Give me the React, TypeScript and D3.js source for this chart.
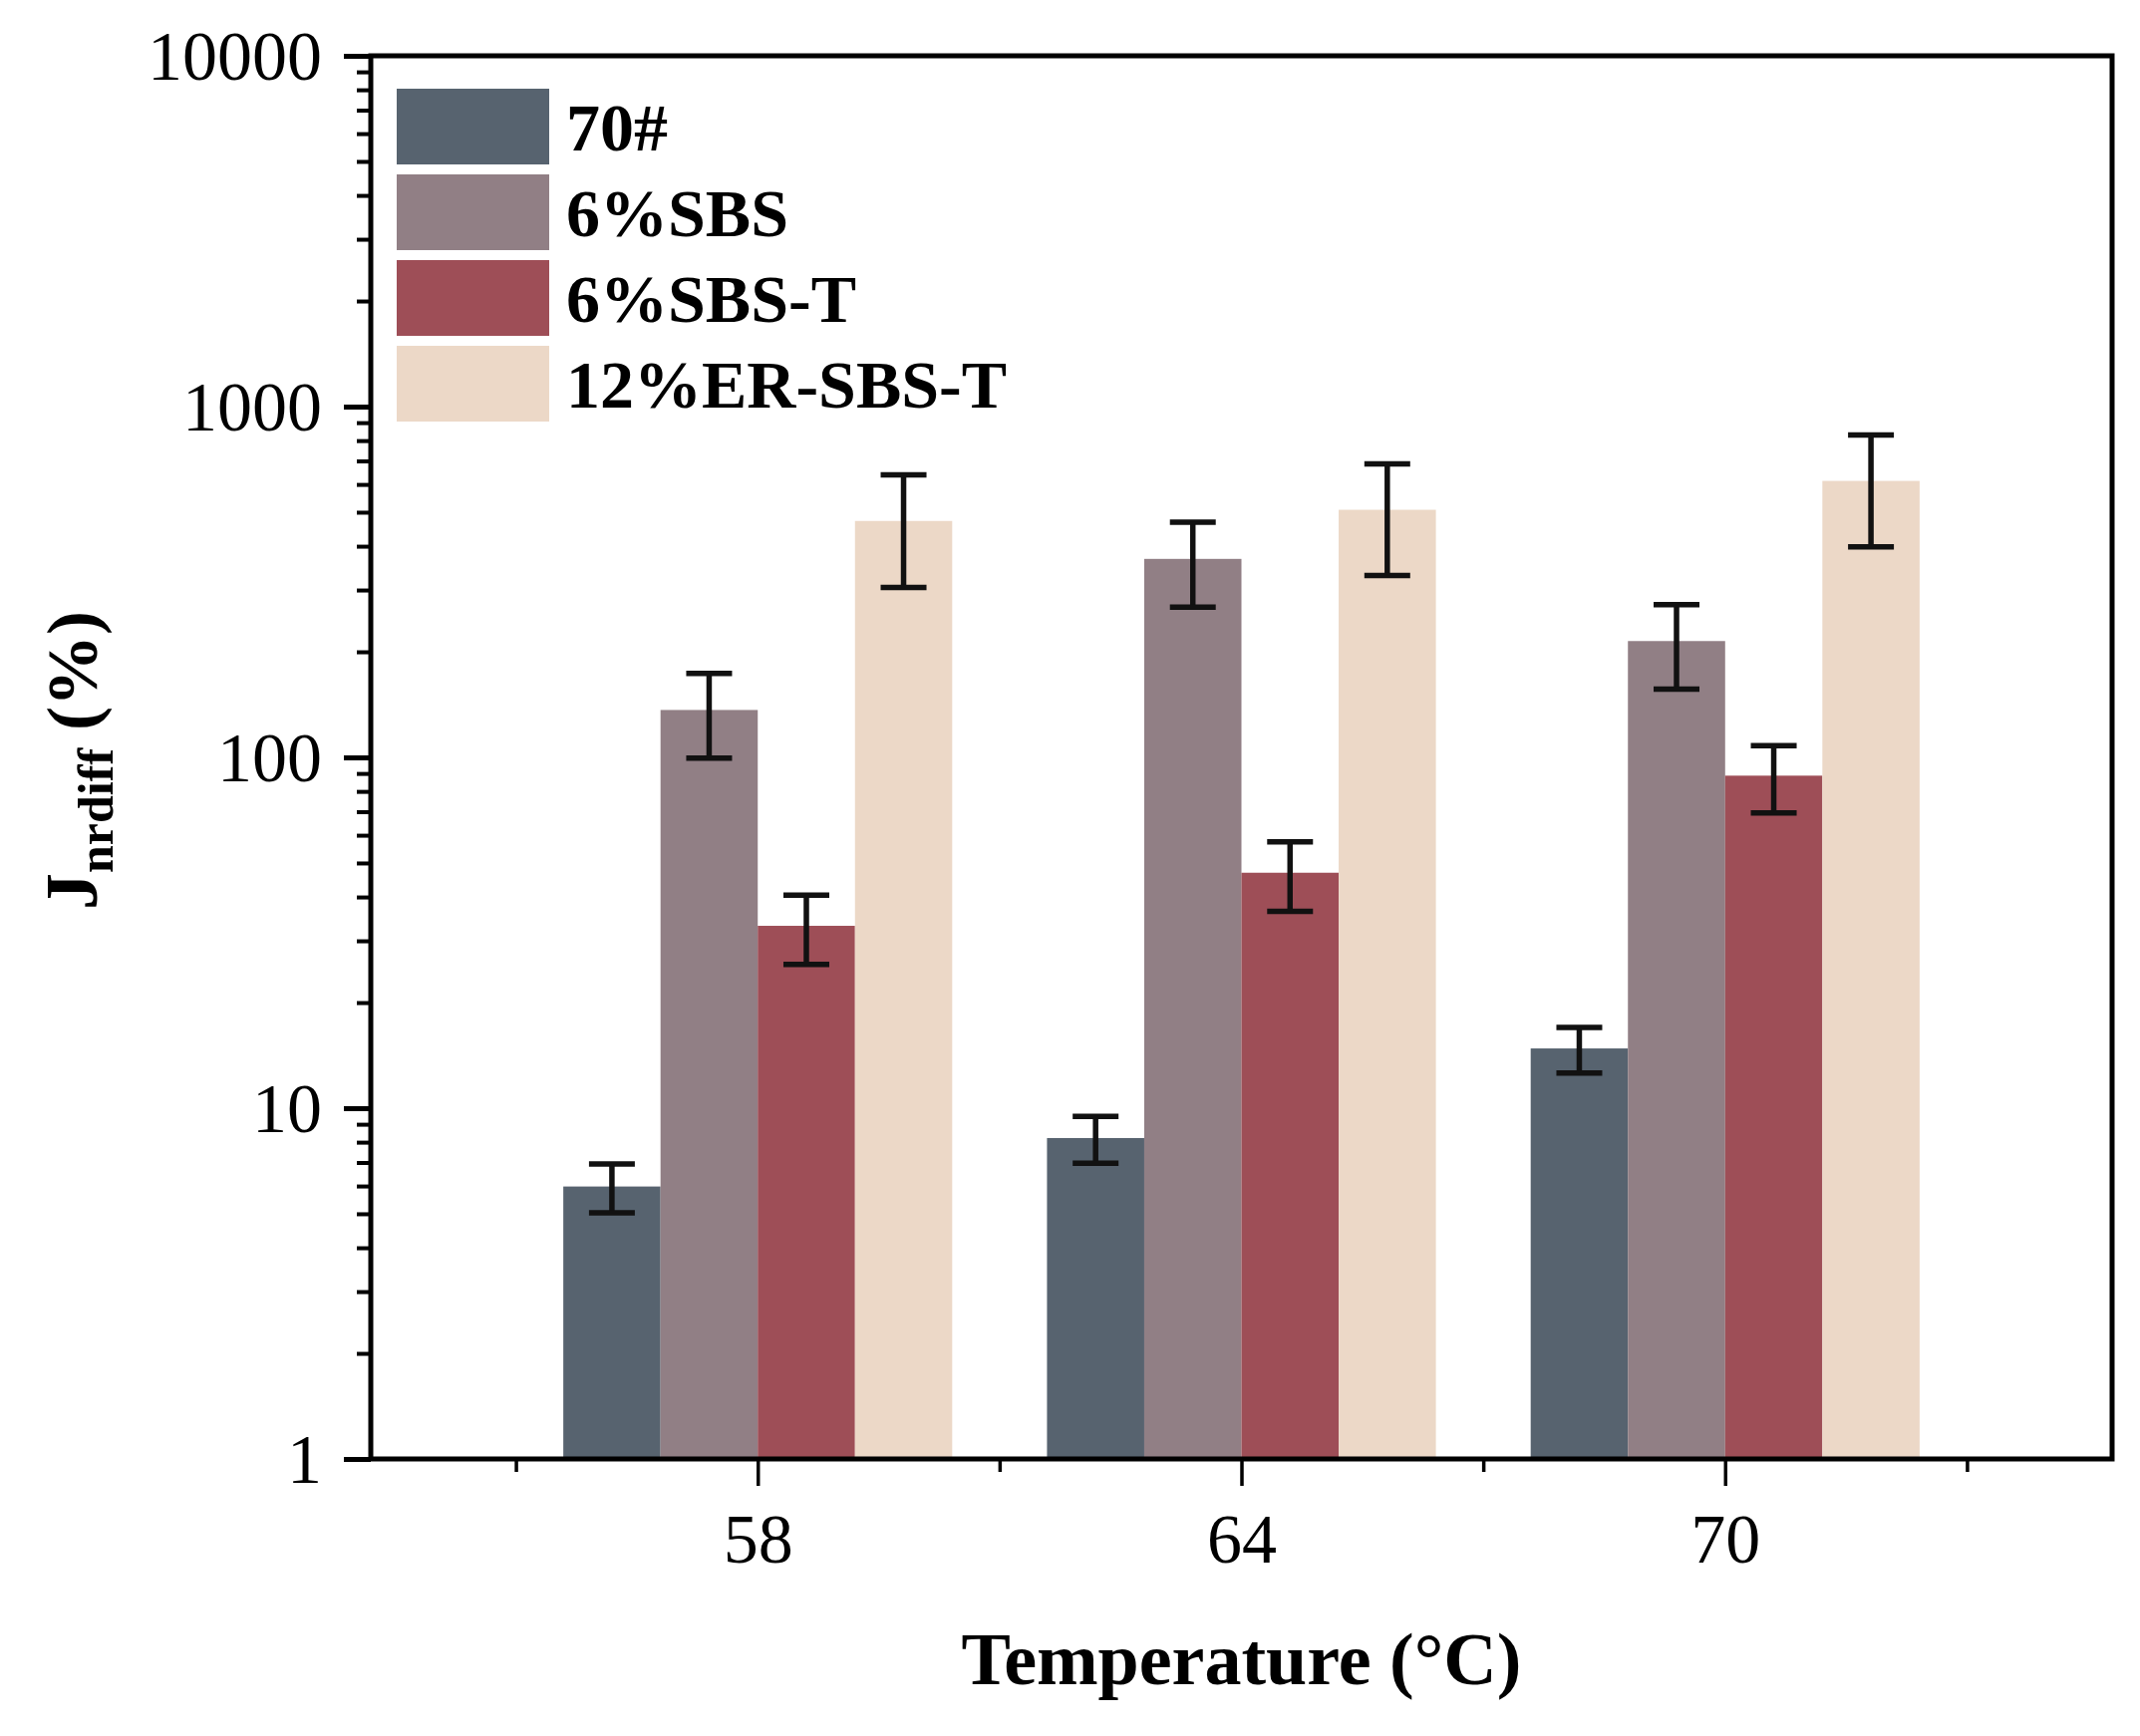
import { useEffect, useRef } from "react";
import * as d3 from "d3";

// temperatures on the x axis
const temperatures = ["58", "64", "70"];
const seriesNames = ["70#", "6%SBS", "6%SBS-T", "12%ER-SBS-T"];
const seriesColors = ["#57636f", "#917f85", "#9e4e57", "#ecd8c7"];

// mean values (%) per temperature
const base70 = [5.98, 8.22, 14.8];
const sbs6 = [136.5, 368, 214.6];
const sbsT6 = [33.1, 46.9, 88.7];
const erSbsT12 = [472, 508, 614];

// standard deviations
const base70Err = [0.95, 1.25, 2.2];
const sbs6Err = [37, 100, 58];
const sbsT6Err = [7.4, 10.5, 19.3];
const erSbsT12Err = [167, 178, 216];

const yMajorTicks = [1, 10, 100, 1000, 10000];

const W = 2147;
const H = 1742;
const margin = { top: 56, right: 28, bottom: 278, left: 372 };
const FONT = "'Liberation Serif', 'Times New Roman', serif";

function App() {
    const svgRef = useRef<SVGSVGElement | null>(null);

    useEffect(() => {
        if (!svgRef.current) return;
        const svg = d3.select<SVGSVGElement, unknown>(svgRef.current);
        svg.selectAll("*").remove();

        const values = [base70, sbs6, sbsT6, erSbsT12];
        const errors = [base70Err, sbs6Err, sbsT6Err, erSbsT12Err];

        const x0 = margin.left;
        const x1 = W - margin.right;
        const y0 = H - margin.bottom;
        const y1 = margin.top;

        const x = d3.scaleLinear().domain([-0.8, 2.8]).range([x0, x1]);
        const y = d3.scaleLog().domain([1, 10000]).range([y0, y1]);

        const groupW = (x(1) - x(0)) * 0.804;
        const inner = d3.scaleBand<string>().domain(seriesNames).range([-groupW / 2, groupW / 2]);

        // bars
        seriesNames.forEach((name, si) => {
            const g = svg.append("g");
            g.selectAll("rect")
                .data(values[si])
                .join("rect")
                .attr("x", (_, i) => x(i) + (inner(name) as number))
                .attr("width", inner.bandwidth())
                .attr("y", (d) => y(d))
                .attr("height", (d) => y(1) - y(d))
                .attr("fill", seriesColors[si]);
        });

        // error bars
        const capW = 46;
        seriesNames.forEach((name, si) => {
            const g = svg.append("g").attr("stroke", "#111").attr("stroke-width", 5.5);
            values[si].forEach((m, i) => {
                const cx = x(i) + (inner(name) as number) + inner.bandwidth() / 2;
                const lo = y(m - errors[si][i]);
                const hi = y(m + errors[si][i]);
                g.append("line").attr("x1", cx).attr("x2", cx).attr("y1", lo).attr("y2", hi);
                g.append("line").attr("x1", cx - capW / 2).attr("x2", cx + capW / 2).attr("y1", lo).attr("y2", lo);
                g.append("line").attr("x1", cx - capW / 2).attr("x2", cx + capW / 2).attr("y1", hi).attr("y2", hi);
            });
        });

        // y axis minor ticks
        const yMinor: number[] = [];
        for (let p = 1; p < 10000; p *= 10) for (let k = 2; k <= 9; k++) yMinor.push(p * k);
        svg.append("g")
            .attr("transform", `translate(${x0},0)`)
            .call(d3.axisLeft(y).tickValues(yMinor).tickSize(14).tickFormat(() => ""))
            .call((g) => g.select(".domain").remove())
            .call((g) => g.selectAll("line").attr("stroke-width", 4));

        // y axis major ticks
        svg.append("g")
            .attr("transform", `translate(${x0},0)`)
            .call(d3.axisLeft(y).tickValues(yMajorTicks).tickSize(27).tickPadding(22).tickFormat(d3.format("d")))
            .call((g) => g.select(".domain").remove())
            .call((g) => g.selectAll("line").attr("stroke-width", 5))
            .call((g) =>
                g.selectAll("text").attr("font-family", FONT).attr("font-size", 70).attr("fill", "#000").attr("dy", "0.33em")
            );

        // x axis minor ticks
        svg.append("g")
            .attr("transform", `translate(0,${y0})`)
            .call(d3.axisBottom(x).tickValues([-0.5, 0.5, 1.5, 2.5]).tickSize(13).tickFormat(() => ""))
            .call((g) => g.select(".domain").remove())
            .call((g) => g.selectAll("line").attr("stroke-width", 3.5));

        // x axis major ticks
        svg.append("g")
            .attr("transform", `translate(0,${y0})`)
            .call(
                d3.axisBottom(x)
                    .tickValues([0, 1, 2])
                    .tickSize(27)
                    .tickPadding(27)
                    .tickFormat((d) => temperatures[d as number])
            )
            .call((g) => g.select(".domain").remove())
            .call((g) => g.selectAll("line").attr("stroke-width", 3.5))
            .call((g) => g.selectAll("text").attr("font-family", FONT).attr("font-size", 70).attr("fill", "#000"));

        // frame
        svg.append("rect")
            .attr("x", x0)
            .attr("y", y1)
            .attr("width", x1 - x0)
            .attr("height", y0 - y1)
            .attr("fill", "none")
            .attr("stroke", "#000")
            .attr("stroke-width", 5);

        // legend
        const legend = svg.append("g").attr("transform", "translate(398,89)");
        seriesNames.forEach((name, i) => {
            legend.append("rect")
                .attr("x", 0)
                .attr("y", i * 86)
                .attr("width", 153)
                .attr("height", 76)
                .attr("fill", seriesColors[i]);
            legend.append("text")
                .attr("x", 170)
                .attr("y", i * 86 + 62)
                .attr("font-family", FONT)
                .attr("font-weight", "bold")
                .attr("font-size", 68)
                .text(name);
        });

        // x axis title
        svg.append("text")
            .attr("x", (x0 + x1) / 2)
            .attr("y", 1690)
            .attr("text-anchor", "middle")
            .attr("font-family", FONT)
            .attr("font-weight", "bold")
            .attr("font-size", 74)
            .text("Temperature (°C)");

        // y axis title
        const yt = svg.append("text")
            .attr("transform", `translate(97,${(y0 + y1) / 2 + 3}) rotate(-90)`)
            .attr("text-anchor", "middle")
            .attr("font-family", FONT)
            .attr("font-weight", "bold");
        yt.append("tspan").attr("font-size", 74).text("J");
        yt.append("tspan").attr("font-size", 50).attr("dy", 16).text("nrdiff");
        yt.append("tspan").attr("font-size", 72).attr("dy", -16).text(" (%)");
    }, []);

    return (
        <svg
            ref={svgRef}
            width={W}
            height={H}
            style={{ position: "absolute", left: 0, top: 0, background: "#fff", display: "block" }}
        ></svg>
    );
}

export default App;
